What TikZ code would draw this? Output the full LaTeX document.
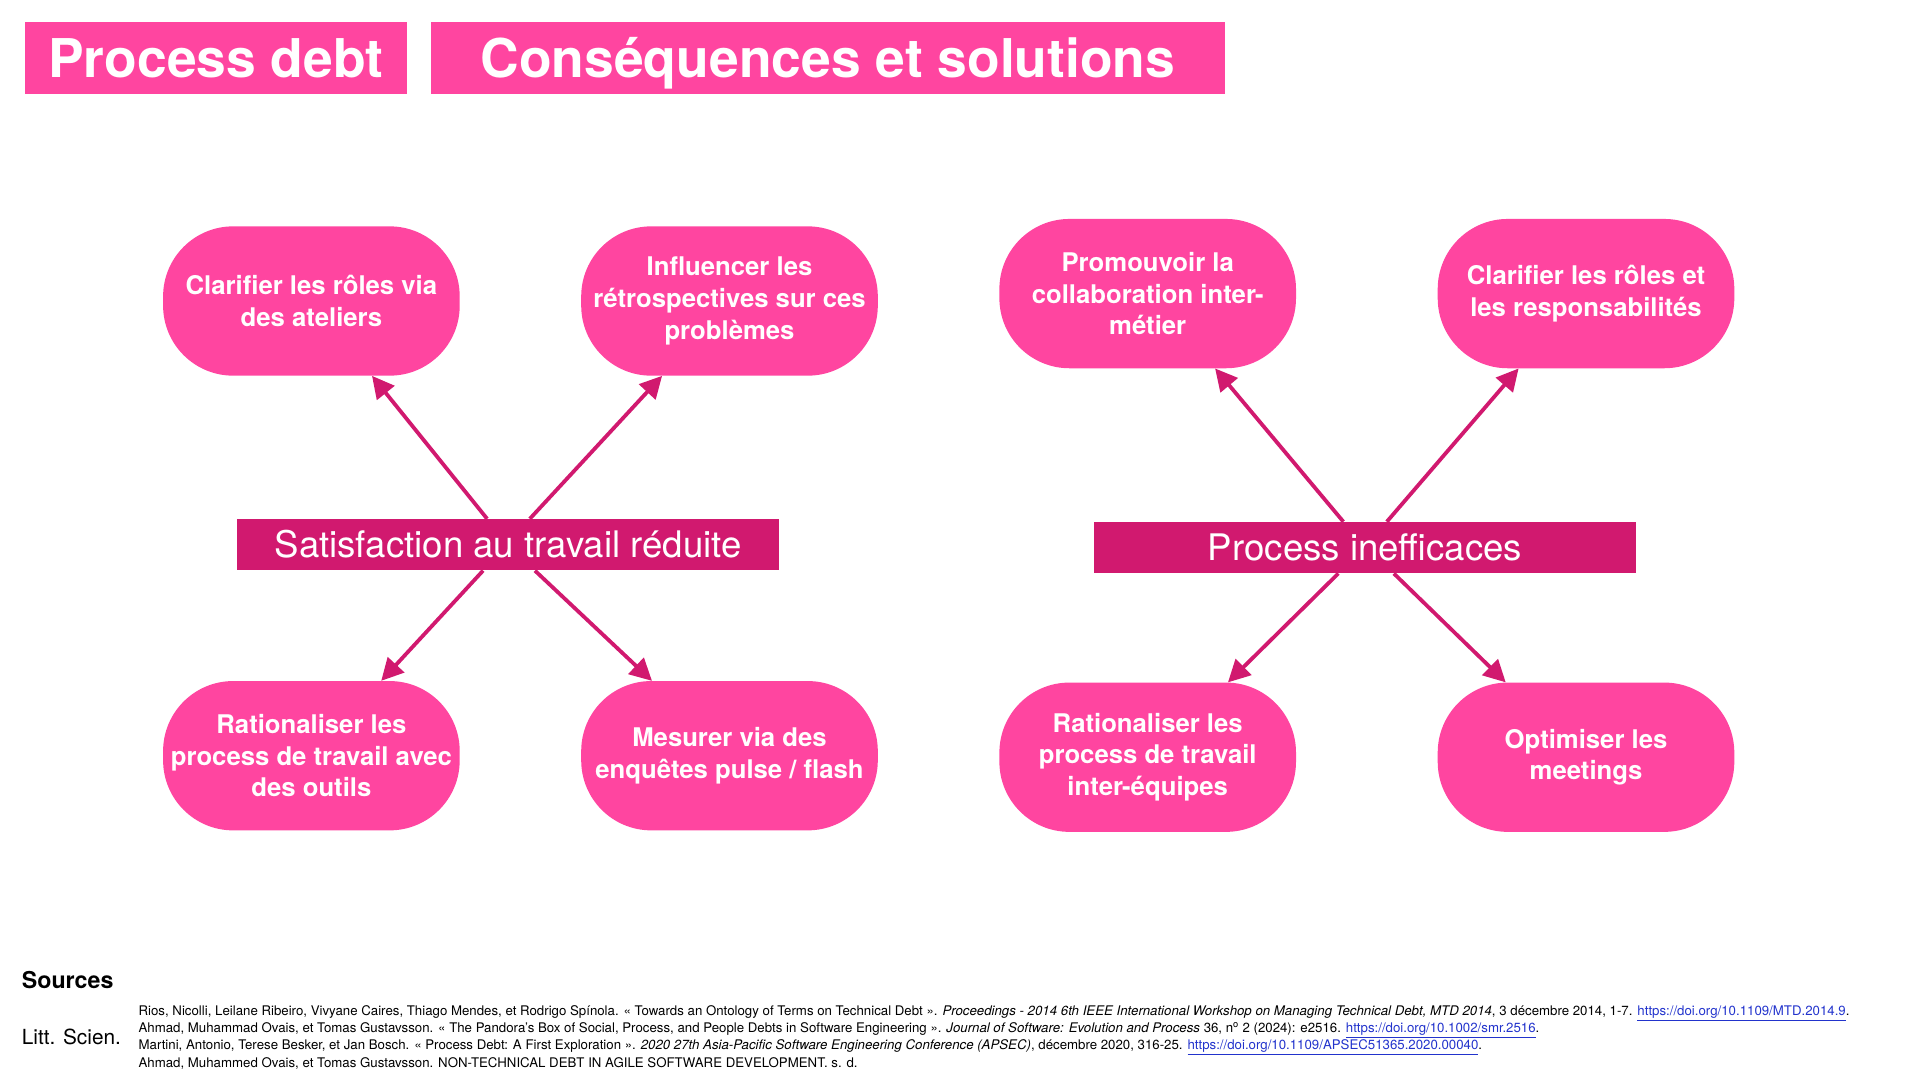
\documentclass[tikz,border=0pt]{standalone}
\usepackage{fontspec}
\setmainfont{TeX Gyre Heros}
\usetikzlibrary{arrows.meta}
\definecolor{debtpink}{HTML}{FF45A0}
\definecolor{debtdark}{HTML}{D1196F}
\definecolor{linkblue}{HTML}{2233CC}
\newcommand{\reflink}[1]{\textcolor{linkblue}{\underline{#1}}}
\tikzstyle{titlebox} = [fill=debtpink, minimum height=72.2pt, inner sep=0pt, text=white, font=\fontsize{53.4}{60}\selectfont\bfseries, text height=38.5pt, text depth=0pt]
\tikzstyle{cause} = [fill=debtdark, minimum width=541.7pt, minimum height=51.4pt, inner sep=0pt, text=white, font=\fontsize{36.6}{40}\selectfont, text height=26.4pt, text depth=0pt]
\tikzstyle{solution} = [fill=debtpink, rounded corners=70pt, minimum width=296.6pt, minimum height=149.3pt, inner sep=0pt, align=center, text=white, font=\fontsize{25.7}{31.6}\selectfont\bfseries]
\tikzstyle{arrow} = [line width=3.8pt, draw=debtdark, -{Triangle[length=22pt,width=22pt]}]

\begin{document}
\begin{tikzpicture}[x=1pt, y=-1pt]
    \useasboundingbox (0,0) rectangle (1920,1080);

    % Nodes (titles)
    \node[titlebox, minimum width=382.6pt] (title) at (216,57.8) {Process debt};
    \node[titlebox, minimum width=793.8pt] (subtitle) at (827.9,57.8) {Conséquences et solutions};

    % Nodes (consequences)
    \node[cause] (sat) at (508.1,544.7) {Satisfaction au travail réduite};
    \node[cause] (ineff) at (1365.1,547.6) {Process inefficaces};

    % Nodes (solutions, left)
    \node[solution] (roles) at (311.4,301) {Clarifier les rôles via\\des ateliers};
    \node[solution] (retro) at (729.5,301) {Influencer les\\rétrospectives sur ces\\problèmes};
    \node[solution] (tools) at (311.4,755.7) {Rationaliser les\\process de travail avec\\des outils};
    \node[solution] (pulse) at (729.5,755.7) {Mesurer via des\\enquêtes pulse / flash};

    % Nodes (solutions, right)
    \node[solution] (collab) at (1147.7,293.6) {Promouvoir la\\collaboration inter-\\métier};
    \node[solution] (resp) at (1586,293.6) {Clarifier les rôles et\\les responsabilités};
    \node[solution] (teams) at (1147.7,757.2) {Rationaliser les\\process de travail\\inter-équipes};
    \node[solution] (meet) at (1586,757.2) {Optimiser les\\meetings};

    % Edges (consequence to solutions)
    \draw[arrow] (sat.129) -- (roles.309);
    \draw[arrow] (sat.50) -- (retro.228);
    \draw[arrow] (sat.226) -- (tools.47);
    \draw[arrow] (sat.316) -- (pulse.136);
    \draw[arrow] (ineff.130) -- (collab.312);
    \draw[arrow] (ineff.50) -- (resp.228);
    \draw[arrow] (ineff.224) -- (teams.43);
    \draw[arrow] (ineff.318) -- (meet.137);

    % Sources
    \node[anchor=west, inner sep=0pt, font=\fontsize{23.2}{26}\selectfont\bfseries] (sources) at (21.7,979.6) {Sources};
    \node[anchor=west, inner sep=0pt, font=\fontsize{20.8}{24}\selectfont] (litt) at (21.7,1037) {Litt. Scien.};
    \node[anchor=north west, inner sep=0pt, align=left, font=\fontsize{13.25}{17.2}\selectfont] (refs) at (138.4,1005.3) {%
        Rios, Nicolli, Leilane Ribeiro, Vivyane Caires, Thiago Mendes, et Rodrigo Spínola. « Towards an Ontology of Terms on Technical Debt ». \textit{Proceedings - 2014 6th IEEE International Workshop on Managing Technical Debt, MTD 2014}, 3 décembre 2014, 1-7. \reflink{https://doi.org/10.1109/MTD.2014.9}.\\
        Ahmad, Muhammad Ovais, et Tomas Gustavsson. « The Pandora’s Box of Social, Process, and People Debts in Software Engineering ». \textit{Journal of Software: Evolution and Process} 36, n\textsuperscript{o} 2 (2024): e2516. \reflink{https://doi.org/10.1002/smr.2516}.\\
        Martini, Antonio, Terese Besker, et Jan Bosch. « Process Debt: A First Exploration ». \textit{2020 27th Asia-Pacific Software Engineering Conference (APSEC)}, décembre 2020, 316-25. \reflink{https://doi.org/10.1109/APSEC51365.2020.00040}.\\
        Ahmad, Muhammed Ovais, et Tomas Gustavsson. NON-TECHNICAL DEBT IN AGILE SOFTWARE DEVELOPMENT. s. d.};
\end{tikzpicture}
\end{document}
